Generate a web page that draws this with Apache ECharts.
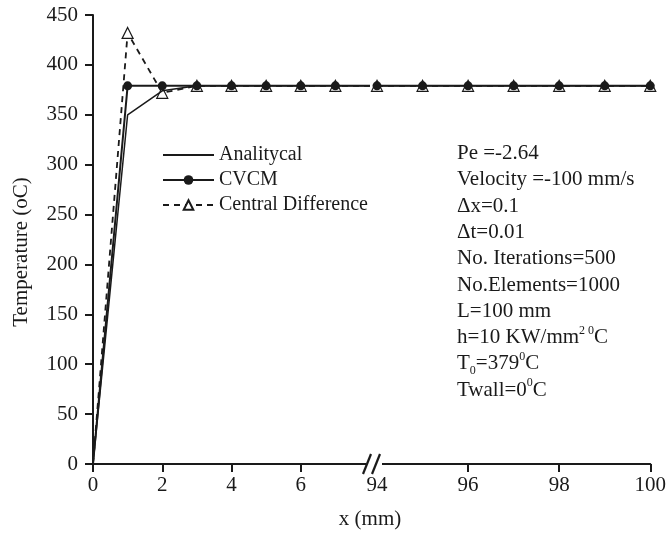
<!DOCTYPE html>
<html>
<head>
<meta charset="utf-8">
<script src="https://cdn.jsdelivr.net/npm/echarts@6/dist/echarts.min.js"></script>
<style>
  html, body { margin: 0; padding: 0; background: #fff; }
  #chart { width: 669px; height: 536px; }
</style>
</head>
<body>
<div id="chart"></div>
<script>
// left part of the broken x axis (0..8 mm)
const xLeft = [0, 1, 2, 3, 4, 5, 6, 7, 8];
const analyticalLeft = [0, 350, 374, 379, 379, 379, 379, 379, 379];
const cvcmLeft = [0, 379, 379, 379, 379, 379, 379, 379, 379];
const centralLeft = [0, 432, 372, 379, 379, 379, 379, 379, 379];

// right part of the broken x axis (94..100 mm)
const xRight = [94, 95, 96, 97, 98, 99, 100];
const analyticalRight = [379, 379, 379, 379, 379, 379, 379];
const cvcmRight = [379, 379, 379, 379, 379, 379, 379];
const centralRight = [379, 379, 379, 379, 379, 379, 379];

const yTicks = [0, 450, 50]; // min, max, step
const xLeftLabels = [0, 2, 4, 6];
const noMarkerAt = [0, 8]; // line passes these x without a marker

const notes = [
  '{a|Pe =-2.64}',
  '{a|Velocity =-100 mm/s}',
  '{a|\u0394x=0.1}',
  '{a|\u0394t=0.01}',
  '{a|No. Iterations=500}',
  '{a|No.Elements=1000}',
  '{a|L=100 mm}',
  '{a|h=10 KW/mm}{s|2 0}{a|C}',
  '{a|T}{b|0}{a|=379}{s|0}{a|C}',
  '{a|Twall=0}{s|0}{a|C}'
];

const FONT = '"Liberation Serif", "Times New Roman", serif';
const INK = '#1a1a1a';

const pair = (xs, ys) =>
  xs.map((x, i) => (noMarkerAt.indexOf(x) >= 0 ? { value: [x, ys[i]], symbol: 'none' } : [x, ys[i]]));

const chart = echarts.init(document.getElementById('chart'));

const xAxisBase = {
  type: 'value',
  splitLine: { show: false },
  axisLine: { lineStyle: { color: INK, width: 2 } },
  axisTick: { length: 8, lineStyle: { color: INK, width: 2 } },
  axisLabel: { color: INK, fontFamily: FONT, fontSize: 21, margin: 11 },
};

const yAxisBase = {
  type: 'value',
  min: yTicks[0],
  max: yTicks[1],
  interval: yTicks[2],
  splitLine: { show: false },
};

function makeSeries(name, data, axisIdx, kind) {
  const s = {
    name: name,
    type: 'line',
    data: data,
    xAxisIndex: axisIdx,
    yAxisIndex: axisIdx,
    clip: true,
  };
  if (kind === 'analytical') {
    s.symbol = 'none';
    s.lineStyle = { color: INK, width: 1.5 };
    s.itemStyle = { color: INK };
    s.z = 3;
  } else if (kind === 'cvcm') {
    s.symbol = 'circle';
    s.symbolSize = 9;
    s.lineStyle = { color: INK, width: 2 };
    s.itemStyle = { color: INK };
    s.z = 4;
  } else {
    s.symbol = 'triangle';
    s.symbolSize = 11;
    s.lineStyle = { color: INK, width: 1.8, type: [6, 5] };
    s.itemStyle = { color: '#fff', borderColor: INK, borderWidth: 1.2 };
    s.z = 2;
  }
  return s;
}

chart.setOption({
  animation: false,
  backgroundColor: '#fff',
  grid: [
    { left: 93, top: 15, width: 277, bottom: 72 },
    { left: 377, top: 15, width: 278, bottom: 72 },
  ],
  legend: {
    orient: 'vertical',
    left: 157,
    top: 140,
    itemWidth: 51,
    itemHeight: 12,
    itemGap: 5,
    data: [
      { name: 'Analitycal', itemStyle: { opacity: 0 } },
      { name: 'CVCM' },
      { name: 'Central Difference' },
    ],
    textStyle: { color: INK, fontFamily: FONT, fontSize: 20 },
  },
  xAxis: [
    Object.assign({}, xAxisBase, {
      gridIndex: 0, min: 0, max: 8, interval: 2,
      axisTick: Object.assign({}, xAxisBase.axisTick, { customValues: xLeftLabels }),
      axisLabel: Object.assign({}, xAxisBase.axisLabel, { customValues: xLeftLabels }),
    }),
    Object.assign({}, xAxisBase, { gridIndex: 1, min: 94, max: 100, interval: 2 }),
  ],
  yAxis: [
    Object.assign({}, yAxisBase, {
      gridIndex: 0,
      axisLine: { show: true, lineStyle: { color: INK, width: 2 } },
      axisTick: { show: true, length: 8, lineStyle: { color: INK, width: 2 } },
      axisLabel: { color: INK, fontFamily: FONT, fontSize: 21, margin: 15 },
    }),
    Object.assign({}, yAxisBase, {
      gridIndex: 1,
      axisLine: { show: false },
      axisTick: { show: false },
      axisLabel: { show: false },
    }),
  ],
  series: [
    makeSeries('Central Difference', pair(xLeft, centralLeft), 0, 'central'),
    makeSeries('Analitycal', pair(xLeft, analyticalLeft), 0, 'analytical'),
    makeSeries('CVCM', pair(xLeft, cvcmLeft), 0, 'cvcm'),
    makeSeries('Central Difference', pair(xRight, centralRight), 1, 'central'),
    makeSeries('Analitycal', pair(xRight, analyticalRight), 1, 'analytical'),
    makeSeries('CVCM', pair(xRight, cvcmRight), 1, 'cvcm'),
  ],
  graphic: [
    // axis break marks
    { type: 'rect', shape: { x: 366, y: 455, width: 16, height: 18 }, style: { fill: '#fff' }, z: 100 },
    { type: 'line', shape: { x1: 363, y1: 474, x2: 371, y2: 454 }, style: { stroke: INK, lineWidth: 2.2 }, z: 101 },
    { type: 'line', shape: { x1: 372, y1: 474, x2: 380, y2: 454 }, style: { stroke: INK, lineWidth: 2.2 }, z: 101 },
    {
      type: 'text', x: 370, y: 519, z: 100,
      style: { text: 'x (mm)', fill: INK, font: '21px ' + FONT, align: 'center', verticalAlign: 'middle' },
    },
    {
      type: 'text', x: 21, y: 252, rotation: Math.PI / 2, z: 100,
      style: { text: 'Temperature (oC)', fill: INK, font: '21px ' + FONT, align: 'center', verticalAlign: 'middle' },
    },
    {
      type: 'text', left: 457, top: 143, z: 100,
      style: {
        text: notes.join('\n'),
        fill: INK,
        rich: {
          a: { fontFamily: FONT, fontSize: 21, lineHeight: 26.3, color: INK },
          s: { fontFamily: FONT, fontSize: 12, lineHeight: 12, color: INK, verticalAlign: 'top' },
          b: { fontFamily: FONT, fontSize: 12, lineHeight: 12, color: INK, verticalAlign: 'bottom' },
        },
      },
    },
  ],
});
</script>
</body>
</html>
